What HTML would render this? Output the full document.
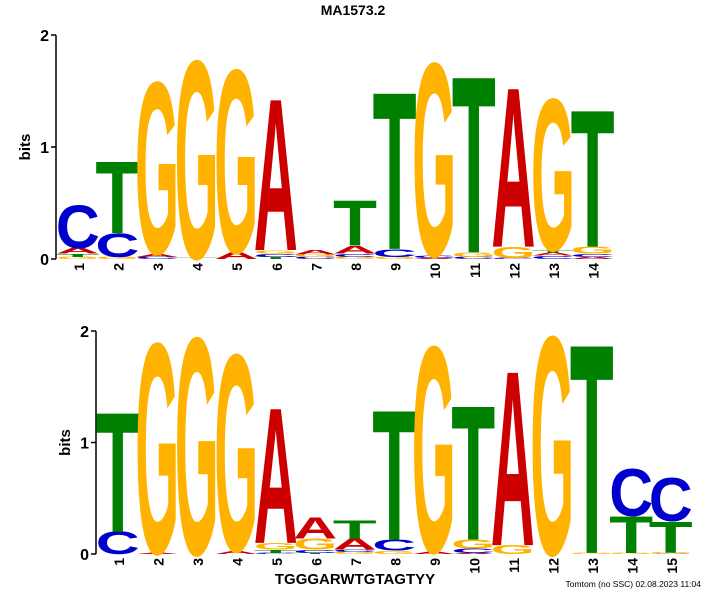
<!DOCTYPE html>
<html><head><meta charset="utf-8"><style>
html,body{margin:0;padding:0;background:#fff;width:708px;height:590px;overflow:hidden;}
svg{display:block;font-family:"Liberation Sans",sans-serif;overflow:hidden;}
</style></head><body>
<svg id="c" width="708" height="590" viewBox="0 0 708 590">
<text x="353" y="15" text-anchor="middle" font-size="14" font-weight="bold">MA1573.2</text>
<text x="355" y="584" text-anchor="middle" font-size="15" font-weight="bold">TGGGARWTGTAGTYY</text>
<text x="701" y="587" text-anchor="end" font-size="8.5">Tomtom (no SSC) 02.08.2023 11:04</text>
</svg>
<script>
// Top logo (MA1573.2): letters bottom-to-top and bit heights
const topLetters = [
 ["G","T","A","C"],["G","C","T"],["C","A","G"],["T","G"],["A","G"],
 ["T","C","G","A"],["C","G","A"],["G","C","A","T"],["G","C","T"],["A","C","G"],
 ["C","G","T"],["C","G","A"],["C","A","T","G"],["A","C","G","T"]
];
const topValues = [
 [0.02,0.03,0.05,0.38],[0.02,0.21,0.64],[0.02,0.03,1.53],[0.01,1.76],[0.06,1.63],
 [0.02,0.03,0.03,1.35],[0.02,0.02,0.04],[0.02,0.03,0.07,0.40],[0.02,0.07,1.40],[0.01,0.02,1.72],
 [0.02,0.04,1.57],[0.01,0.10,1.42],[0.03,0.03,0.02,1.35],[0.02,0.03,0.06,1.22]
];
// Bottom logo (query)
const botLetters = [
 ["C","T"],["A","G"],["G"],["A","G"],["C","T","G","A"],
 ["T","C","G","A"],["G","C","A","T"],["G","C","T"],["A","G"],["A","C","G","T"],
 ["G","A"],["G"],["G","T"],["G","T","C"],["A","G","T","C"]
];
const botValues = [
 [0.20,1.07],[0.01,1.88],[1.94],[0.03,1.76],[0.01,0.03,0.06,1.21],
 [0.01,0.03,0.10,0.19],[0.02,0.02,0.10,0.16],[0.03,0.10,1.16],[0.02,1.84],[0.01,0.04,0.08,1.20],
 [0.08,1.56],[1.95],[0.01,1.87],[0.01,0.33,0.42],[0.005,0.01,0.28,0.39]
];
const yTicks = [0,1,2];

const colors = {A:"#CC0000",C:"#0000CC",G:"#FFB300",T:"#008000"};
const NS="http://www.w3.org/2000/svg";
const svg=document.getElementById('c');
function mk(t,a){const e=document.createElementNS(NS,t);for(const k in a)e.setAttribute(k,a[k]);svg.appendChild(e);return e;}

function drawPanel(letters, values, cfg){
  const y=v=>cfg.base - v*cfg.ppb;
  const x=i=>cfg.left + i*cfg.w;
  const ax=mk('line',{x1:cfg.axisX,x2:cfg.axisX,y1:y(0),y2:y(2),stroke:'#000','stroke-width':1.5});
  
  
  yTicks.forEach(t=>{
    const tk=mk('line',{x1:cfg.axisX-5,x2:cfg.axisX,y1:y(t),y2:y(t),stroke:'#000','stroke-width':1.5});
    
    
    const tl=mk('text',{x:cfg.axisX-7,y:y(t)+6,'text-anchor':'end','font-size':16,'font-weight':'bold'});
    tl.textContent=t;
    
    
  });
  const bl=mk('text',{transform:`translate(${cfg.axisX-26},${y(1)}) rotate(-90)`,'text-anchor':'middle','font-size':15,'font-weight':'bold'});
  bl.textContent='bits';
  
  
  letters.forEach((col,i)=>{
    let acc=0;
    col.forEach((L,j)=>{
      const h=values[i][j]*cfg.ppb;
      const yb=y(acc);
      acc+=values[i][j];
      if(h<0.3)return;
      const sx=cfg.w/63;
      const t=mk('text',{x:0,y:0,'font-size':100,'font-weight':'bold',fill:colors[L],textLength:70,lengthAdjust:'spacingAndGlyphs',
        transform:`translate(${x(i)-3.5*sx},${yb}) scale(${sx},${h/69.5})`});
      t.textContent=L;
      
      
    });
    const nl=mk('text',{transform:`translate(${x(i)+cfg.w/2+6},${cfg.base+4}) rotate(-90)`,'text-anchor':'end','font-size':14,'font-weight':'bold'});
    nl.textContent=i+1;
    
    
  });
}
drawPanel(topLetters, topValues, {name:'top', base:259, ppb:112, left:58, w:39.6, axisX:56});
drawPanel(botLetters, botValues, {name:'bottom', base:554, ppb:111.5, left:98, w:39.5, axisX:96});
</script>
</body></html>
